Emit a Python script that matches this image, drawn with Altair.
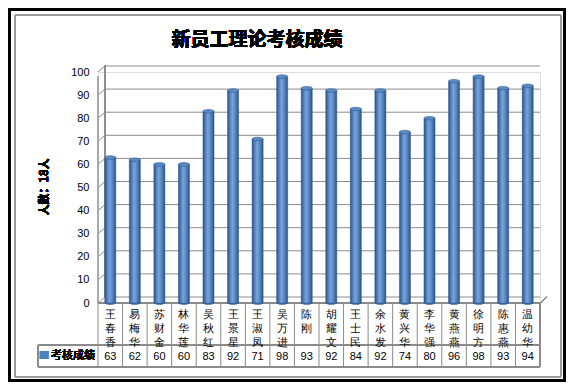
import altair as alt
import pandas as pd

names = ["王春香", "易梅华", "苏财金", "林华莲", "吴秋红", "王景星", "王淑凤", "吴万进", "陈刚",
         "胡耀文", "王士民", "余水发", "黄兴华", "李华强", "黄燕燕", "徐明方", "陈惠燕", "温幼华"]
scores = [63, 62, 60, 60, 83, 92, 71, 98, 93, 92, 84, 92, 74, 80, 96, 98, 93, 94]
y_ticks = [0, 10, 20, 30, 40, 50, 60, 70, 80, 90, 100]
title_text = "新员工理论考核成绩"
y_title = "人数：18人"
series_name = "考核成绩"

W, H = 442, 231
STEP = W / len(names)
CJK = "Noto Sans CJK SC"

df = pd.DataFrame({"name": names, "score": scores, "zero": [0] * len(names)})
for i in range(3):
    df[f"c{i}"] = [n[i] if i < len(n) else "" for n in names]
grid_df = pd.DataFrame({"v": y_ticks})

xs = alt.Scale(domain=names, paddingInner=0.55, paddingOuter=0.275)
ys = alt.Scale(domain=[0, 100], nice=False)
yaxis = alt.Axis(values=y_ticks, title=None, domain=False, ticks=False, grid=False,
                 labelPadding=9, labelFontSize=11, labelColor="black",
                 labelFont="Liberation Sans", labelOverlap=False, zindex=1)
X = alt.X("name:N", scale=xs, axis=None, sort=names)


def Y(field):
    return alt.Y(field, scale=ys, axis=yaxis)


base = alt.Chart(df)

# frames
outer = base.mark_rect(fill=None, stroke="black", strokeWidth=3).encode(
    x=alt.value(-88.5), x2=alt.value(466.5), y=alt.value(-62.5), y2=alt.value(308.5))
inner = base.mark_rect(fill=None, stroke="#9a9a9a", strokeWidth=1).encode(
    x=alt.value(-83), x2=alt.value(463), y=alt.value(-57), y2=alt.value(305))

gbase = alt.Chart(grid_df)
grid = gbase.mark_rule(color="#8c8c8c", strokeWidth=1, yOffset=-6).encode(
    y=Y("v:Q"), x=alt.value(7), x2=alt.value(W))
diag = gbase.mark_rule(color="#8c8c8c", strokeWidth=1, y2Offset=-6).encode(
    y=Y("v:Q"), y2="v:Q", x=alt.value(0), x2=alt.value(7))
front = base.mark_rule(color="#a8a8a8").encode(x=alt.value(0), y=alt.value(4), y2=alt.value(H))
back = base.mark_rule(color="#8c8c8c").encode(x=alt.value(7), y=alt.value(-7), y2=alt.value(H - 6))

grad = alt.Gradient(gradient="linear", x1=0, x2=1, y1=0, y2=0,
                    stops=[alt.GradientStop(color="#2b5284", offset=0),
                           alt.GradientStop(color="#5f8fcc", offset=0.3),
                           alt.GradientStop(color="#7aa3d8", offset=0.45),
                           alt.GradientStop(color="#4f7fbb", offset=0.75),
                           alt.GradientStop(color="#2a5080", offset=1)])
bars = base.mark_bar(fill=grad, stroke="#2f5a8f", strokeWidth=0.5).encode(
    x=X, y=Y("score:Q"), y2="zero:Q")
ell = "M -1 0 A 1 0.32 0 1 0 1 0 A 1 0.32 0 1 0 -1 0 Z"
caps = base.mark_point(shape=ell, size=125, filled=True, fill="#5b8bc7", stroke="#2f5a8f",
                       strokeWidth=0.6, opacity=1).encode(x=X, y=Y("score:Q"))
bottoms = base.mark_point(shape=ell, size=125, filled=True, fill="#3b679e", opacity=1).encode(
    x=X, y=Y("zero:Q"))

# table
tcol = "#8a8a8a"
hlines = [
    base.mark_rule(color=tcol).encode(x=alt.value(0), x2=alt.value(W), y=alt.value(H)),
    base.mark_rule(color=tcol).encode(x=alt.value(-60), x2=alt.value(W), y=alt.value(H + 42)),
    base.mark_rule(color=tcol).encode(x=alt.value(-60), x2=alt.value(W), y=alt.value(H + 64)),
]
vlines = base.mark_rule(color=tcol, xOffset=-STEP / 2).encode(
    x=X, y=alt.value(H), y2=alt.value(H + 64))
vright = base.mark_rule(color=tcol).encode(x=alt.value(W), y=alt.value(H), y2=alt.value(H + 64))
vleft = base.mark_rule(color=tcol).encode(x=alt.value(-60), y=alt.value(H + 42), y2=alt.value(H + 64))
right_diag = base.mark_rule(color=tcol).encode(x=alt.value(W), x2=alt.value(W + 7),
                                               y=alt.value(H), y2=alt.value(H - 6))

name_layers = [
    base.mark_text(fontSize=11, baseline="middle", font="Liberation Sans", color="black").encode(
        x=X, y=alt.value(H + 12 + 14 * i), text=f"c{i}:N")
    for i in range(3)
]
val_text = base.mark_text(fontSize=11, baseline="middle", font="Liberation Sans", color="black").encode(
    x=X, y=alt.value(H + 54), text="score:Q")
sq = base.mark_text(text="■", fontSize=10, color="#4f81bd", baseline="middle", font=CJK).encode(
    x=alt.value(-54), y=alt.value(H + 53))
hdr = base.mark_text(text=series_name, fontSize=11, align="left", baseline="middle", font=CJK,
                     color="black").encode(x=alt.value(-47), y=alt.value(H + 53))

title = base.mark_text(text=title_text, fontSize=19, fontWeight="bold", font=CJK, color="black",
                       baseline="middle").encode(x=alt.value(159), y=alt.value(-32))
ytitle = base.mark_text(text=y_title, fontSize=11, fontWeight="bold", font=CJK, color="black",
                        angle=270, baseline="middle").encode(x=alt.value(-53), y=alt.value(115))

chart = alt.layer(
    outer, inner, grid, diag, front, back, *hlines, vlines, vright, vleft, right_diag,
    bottoms, bars, caps, *name_layers, val_text, sq, hdr, title, ytitle
).properties(
    width=W, height=H,
    autosize=alt.AutoSizeParams(type="none"),
    padding={"left": 90, "top": 64, "right": 26, "bottom": 79},
).configure_view(stroke=None).configure(background="white")

chart.save("out.html", embed_options={"renderer": "svg", "actions": False})
